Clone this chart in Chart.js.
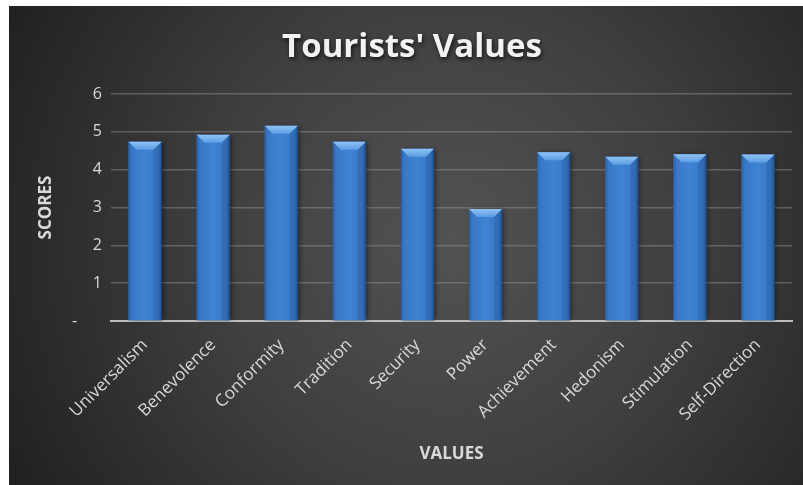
<!DOCTYPE html>
<html>
<head>
<meta charset="utf-8">
<script src="https://cdn.jsdelivr.net/npm/chart.js@4.4.1/dist/chart.umd.min.js"></script>
<style>
  html, body { margin: 0; padding: 0; background: #ffffff; }
  #wrap { position: relative; width: 803px; height: 485px; }
</style>
</head>
<body>
<div id="wrap"><canvas id="chart" width="803" height="485"></canvas></div>
<script>
// Mean scores per value type
const categories = ['Universalism', 'Benevolence', 'Conformity', 'Tradition', 'Security',
                    'Power', 'Achievement', 'Hedonism', 'Stimulation', 'Self-Direction'];
const scores = [4.74, 4.92, 5.16, 4.74, 4.55, 2.96, 4.46, 4.34, 4.41, 4.40];
const yTickLabels = ['-', '1', '2', '3', '4', '5', '6'];
const chartTitle = "Tourists' Values";
const xTitle = 'VALUES';
const yTitle = 'SCORES';

const FONT = "'Open Sans', 'DejaVu Sans', sans-serif";

// Dark panel with a soft radial glow behind the plot
const backdrop = {
  id: 'backdrop',
  beforeDraw(chart) {
    const { ctx, width, height } = chart;
    ctx.save();
    ctx.fillStyle = '#ffffff';
    ctx.fillRect(0, 0, width, height);
    const x0 = 9, y0 = 6;
    const g = ctx.createRadialGradient(450, 240, 10, 450, 240, 520);
    g.addColorStop(0, '#525252');
    g.addColorStop(0.45, '#3f3f3f');
    g.addColorStop(1, '#1e1e1e');
    ctx.fillStyle = g;
    ctx.fillRect(x0, y0, width - x0, height - y0);
    ctx.restore();
  },
  afterLayout(chart) {
    const tb = chart.titleBlock;
    if (!tb) return;
    // centre the title over the panel to the right of the axis title
    tb.left = 32;
    if (!tb._shadowed) {
      const orig = tb.draw.bind(tb);
      tb.draw = function () {
        const c = this.ctx;
        c.save();
        c.shadowColor = 'rgba(0,0,0,0.75)';
        c.shadowBlur = 4;
        c.shadowOffsetX = 1;
        c.shadowOffsetY = 2;
        orig();
        c.restore();
      };
      tb._shadowed = true;
    }
  }
};

// Bevelled blue columns drawn over the library's bar elements
const bevelBars = {
  id: 'bevelBars',
  afterDatasetsDraw(chart) {
    const { ctx } = chart;
    const meta = chart.getDatasetMeta(0);
    meta.data.forEach((bar) => {
      const { x, y, base, width } = bar.getProps(['x', 'y', 'base', 'width'], true);
      const l = x - width / 2, r = x + width / 2;
      const h = base - y;
      ctx.save();
      ctx.shadowColor = 'rgba(0,0,0,0.5)';
      ctx.shadowBlur = 5;
      ctx.shadowOffsetX = 2;
      ctx.shadowOffsetY = 0;
      const g = ctx.createLinearGradient(l, 0, r, 0);
      g.addColorStop(0, '#2b5fa6');
      g.addColorStop(0.1, '#3878c6');
      g.addColorStop(0.5, '#3f83d3');
      g.addColorStop(0.9, '#3677c4');
      g.addColorStop(1, '#26548f');
      ctx.fillStyle = g;
      ctx.fillRect(l, y, width, h);
      ctx.restore();
      // bevelled top face
      const d = 8;
      ctx.save();
      const tg = ctx.createLinearGradient(0, y, 0, y + d);
      tg.addColorStop(0, '#8fc2f3');
      tg.addColorStop(1, '#5c9de3');
      ctx.fillStyle = tg;
      ctx.beginPath();
      ctx.moveTo(l, y);
      ctx.lineTo(r, y);
      ctx.lineTo(r - d, y + d);
      ctx.lineTo(l + d, y + d);
      ctx.closePath();
      ctx.fill();
      ctx.fillStyle = 'rgba(20,50,95,0.15)';
      ctx.beginPath();
      ctx.moveTo(r, y); ctx.lineTo(r - d, y + d); ctx.lineTo(r - d, base); ctx.lineTo(r, base);
      ctx.closePath(); ctx.fill();
      ctx.restore();
    });
  }
};

new Chart(document.getElementById('chart'), {
  type: 'bar',
  data: {
    labels: categories,
    datasets: [{
      label: yTitle,
      data: scores,
      backgroundColor: '#3a7bc8',
      borderWidth: 0,
      categoryPercentage: 1,
      barPercentage: 0.485
    }]
  },
  options: {
    responsive: false,
    animation: false,
    layout: { padding: { left: 0, right: 11, top: 0, bottom: 0 } },
    plugins: {
      legend: { display: false },
      tooltip: { enabled: false },
      title: {
        display: true,
        text: chartTitle,
        color: '#f2f2f2',
        font: { family: FONT, size: 33, weight: 'bold', lineHeight: 1.2 },
        padding: { top: 28, bottom: 26.4 }
      }
    },
    scales: {
      x: {
        grid: { display: false, drawTicks: false },
        border: { display: true, color: '#bdbdbd', width: 2 },
        ticks: {
          color: '#d9d9d9',
          font: { family: FONT, size: 17 },
          minRotation: 45,
          maxRotation: 45,
          padding: 14,
          autoSkip: false
        },
        title: {
          display: true,
          text: xTitle,
          color: '#d9d9d9',
          font: { family: FONT, size: 17, weight: 'bold', lineHeight: 1.2 },
          padding: { top: 0, bottom: 21 }
        },
        afterFit(scale) { scale.height = 164; }
      },
      y: {
        min: 0,
        max: 6,
        grid: { color: 'rgba(150,150,150,0.45)', lineWidth: 1.5, drawTicks: false },
        border: { display: false },
        ticks: {
          stepSize: 1,
          color: '#d9d9d9',
          font: { family: FONT, size: 16 },
          padding: 9,
          callback(value) {
            const lbl = yTickLabels[value];
            return value === 0 ? lbl + '      ' : lbl;
          }
        },
        title: {
          display: true,
          text: yTitle,
          color: '#d9d9d9',
          font: { family: FONT, size: 17, weight: 'bold', lineHeight: 1.2 },
          padding: { top: 36, bottom: 0 }
        },
        afterFit(scale) { scale.width = 111; }
      }
    }
  },
  plugins: [backdrop, bevelBars]
});
</script>
</body>
</html>
